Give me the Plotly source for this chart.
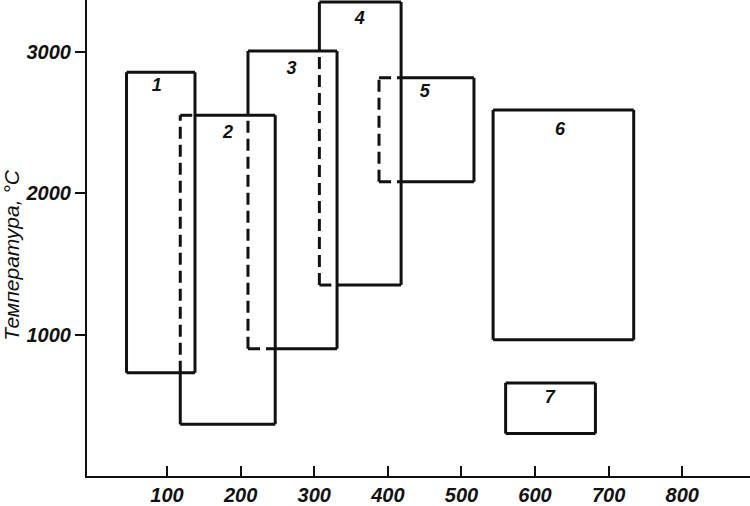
import plotly.graph_objects as go

# rectangles: temperature vs speed regions, numbered 1..7
rect_ids = ['1', '2', '3', '4', '5', '6', '7']
x_low = [45, 118, 210, 307, 388, 543, 560]
x_high = [138, 247, 331, 418, 517, 734, 682]
t_low = [730, 365, 900, 1350, 2080, 963, 300]
t_high = [2855, 2550, 3005, 3350, 2815, 2588, 658]

label_x = [86, 183, 269, 362, 450, 634, 620]
label_y = [2752, 2418, 2874, 3229, 2714, 2441, 546]

x_ticks = [100, 200, 300, 400, 500, 600, 700, 800]
y_ticks = [1000, 2000, 3000]

LINE = '#111111'


def split_edge(p0, p1, prev):
    """Split an axis-aligned edge into parts outside / inside the previous rectangle."""
    (ax, ay), (bx, by) = p0, p1
    px0, px1, py0, py1 = prev
    if ax == bx:  # vertical
        if not (px0 < ax < px1):
            return [(p0, p1)], []
        lo, hi = max(min(ay, by), py0), min(max(ay, by), py1)
        if lo >= hi:
            return [(p0, p1)], []
        y0, y1 = min(ay, by), max(ay, by)
        outside = [((ax, a), (ax, b)) for a, b in [(y0, lo), (hi, y1)] if b > a]
        return outside, [((ax, lo), (ax, hi))]
    else:  # horizontal
        if not (py0 < ay < py1):
            return [(p0, p1)], []
        lo, hi = max(min(ax, bx), px0), min(max(ax, bx), px1)
        if lo >= hi:
            return [(p0, p1)], []
        x0, x1 = min(ax, bx), max(ax, bx)
        outside = [((a, ay), (b, ay)) for a, b in [(x0, lo), (hi, x1)] if b > a]
        return outside, [((lo, ay), (hi, ay))]


solid_x, solid_y, dash_x, dash_y = [], [], [], []
for i in range(len(rect_ids)):
    x0, x1, y0, y1 = x_low[i], x_high[i], t_low[i], t_high[i]
    corners = [(x0, y0), (x1, y0), (x1, y1), (x0, y1), (x0, y0)]
    prev = (x_low[i - 1], x_high[i - 1], t_low[i - 1], t_high[i - 1]) if i > 0 else None
    for a, b in zip(corners[:-1], corners[1:]):
        if prev is None:
            outside, inside = [(a, b)], []
        else:
            outside, inside = split_edge(a, b, prev)
        for (sa, sb) in outside:
            solid_x += [sa[0], sb[0], None]
            solid_y += [sa[1], sb[1], None]
        for (sa, sb) in inside:
            dash_x += [sa[0], sb[0], None]
            dash_y += [sa[1], sb[1], None]

fig = go.Figure()
fig.add_trace(go.Scatter(
    x=solid_x, y=solid_y, mode='lines',
    line={'color': LINE, 'width': 3}, hoverinfo='skip',
))
fig.add_trace(go.Scatter(
    x=dash_x, y=dash_y, mode='lines',
    line={'color': LINE, 'width': 3, 'dash': '12px,6px'}, hoverinfo='skip',
))
fig.add_trace(go.Scatter(
    x=label_x, y=label_y, mode='text', text=rect_ids,
    textfont={'family': 'Liberation Sans', 'size': 18, 'color': LINE,
              'weight': 'bold', 'style': 'italic'},
    hoverinfo='skip',
))

tick_font = {'family': 'Liberation Sans', 'size': 20, 'color': LINE,
             'weight': 'bold', 'style': 'italic'}

fig.update_layout(
    width=750, height=506,
    margin={'l': 87, 'r': 0, 't': 0, 'b': 26},
    paper_bgcolor='white', plot_bgcolor='white',
    showlegend=False,
    xaxis={
        'range': [-8.7, 892], 'tickvals': x_ticks,
        'ticks': 'inside', 'ticklen': 10, 'tickwidth': 2, 'tickcolor': LINE,
        'showline': True, 'linecolor': LINE, 'linewidth': 2,
        'showgrid': False, 'zeroline': False, 'tickfont': tick_font,
        'ticklabelstandoff': 0,
    },
    yaxis={
        'range': [0, 3365], 'tickvals': y_ticks,
        'ticks': 'outside', 'ticklen': 10, 'tickwidth': 2, 'tickcolor': LINE,
        'showline': True, 'linecolor': LINE, 'linewidth': 2,
        'showgrid': False, 'zeroline': False, 'tickfont': tick_font,
        'ticklabelstandoff': 0,
    },
    annotations=[{
        'text': 'Температура, °C', 'xref': 'paper', 'yref': 'paper',
        'x': -0.113, 'y': 0.465, 'textangle': -90, 'showarrow': False,
        'xanchor': 'center', 'yanchor': 'middle',
        'font': {'family': 'Liberation Sans', 'size': 21, 'color': LINE,
                 'style': 'italic'},
    }],
)

# page body has a default 8px margin; drop it so the figure sits at the corner
fig.write_html('out.html', config={'displayModeBar': False},
               post_script="document.body.style.margin='0';")
